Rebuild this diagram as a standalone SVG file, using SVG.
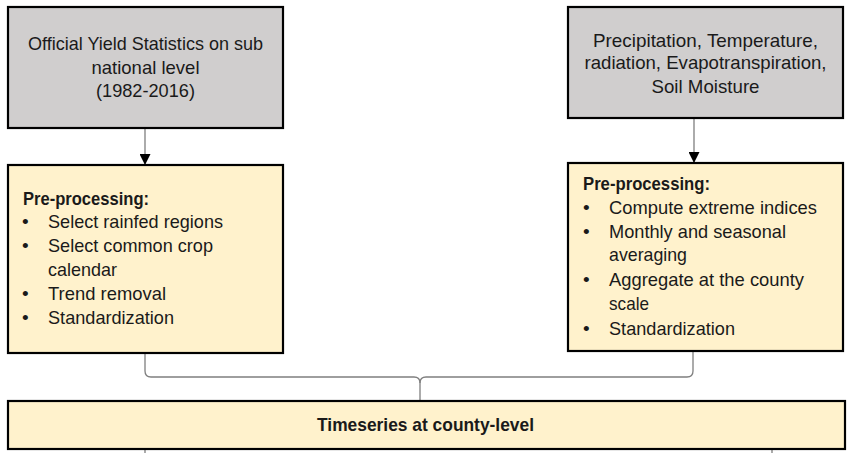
<svg xmlns="http://www.w3.org/2000/svg" width="848" height="453" viewBox="0 0 848 453">
<style>
.gray{fill:#d0cece;stroke:#000;stroke-width:2.2}
.yel{fill:#fff2cc;stroke:#000;stroke-width:2.2}
text{font-family:"Liberation Sans",Arial,sans-serif;font-size:19px;fill:#1a1a1a}
.c{text-anchor:middle}
.b{font-weight:bold}
.conn{fill:none;stroke:#7f7f7f;stroke-width:1.3}
</style>
<defs>
<marker id="arr" markerWidth="11" markerHeight="11" refX="10" refY="5.5" orient="auto" markerUnits="userSpaceOnUse">
<path d="M0,0 L11,5.5 L0,11 Z" fill="#000"/>
</marker>
</defs>
<g id="connectors">
<line class="conn" x1="145" y1="129" x2="145" y2="164" marker-end="url(#arr)"/>
<line class="conn" x1="694" y1="119" x2="694" y2="162" marker-end="url(#arr)"/>
<path class="conn" d="M145,354 V371 Q145,377 151,377 H414 Q420,377 420,383 V400"/>
<path class="conn" d="M693,352 V371 Q693,377 687,377 H426 Q420,377 420,383"/>
<line class="conn" x1="145" y1="450" x2="145" y2="453"/>
<line class="conn" x1="772" y1="450" x2="772" y2="453"/>
</g>
<g id="yield-stats">
<rect class="gray" x="8" y="7" width="275" height="121"/>
<text class="c" x="145.5" y="50" textLength="235" lengthAdjust="spacingAndGlyphs">Official Yield Statistics on sub</text>
<text class="c" x="145.5" y="74" textLength="108" lengthAdjust="spacingAndGlyphs">national level</text>
<text class="c" x="145.5" y="97" textLength="99" lengthAdjust="spacingAndGlyphs">(1982-2016)</text>
</g>
<g id="climate-vars">
<rect class="gray" x="568" y="7" width="275" height="111"/>
<text class="c" x="705.5" y="47" textLength="225" lengthAdjust="spacingAndGlyphs">Precipitation, Temperature,</text>
<text class="c" x="705.5" y="69" textLength="242" lengthAdjust="spacingAndGlyphs">radiation, Evapotranspiration,</text>
<text class="c" x="705.5" y="93" textLength="108" lengthAdjust="spacingAndGlyphs">Soil Moisture</text>
</g>
<g id="preproc-left">
<rect class="yel" x="8" y="165" width="275" height="188"/>
<text class="b" x="23" y="205" textLength="126" lengthAdjust="spacingAndGlyphs">Pre-processing:</text>
<text x="22" y="228">•</text>
<text x="48" y="228" textLength="175" lengthAdjust="spacingAndGlyphs">Select rainfed regions</text>
<text x="22" y="252">•</text>
<text x="48" y="252" textLength="165" lengthAdjust="spacingAndGlyphs">Select common crop</text>
<text x="48" y="276" textLength="69" lengthAdjust="spacingAndGlyphs">calendar</text>
<text x="22" y="300">•</text>
<text x="48" y="300" textLength="118" lengthAdjust="spacingAndGlyphs">Trend removal</text>
<text x="22" y="324">•</text>
<text x="48" y="324" textLength="126" lengthAdjust="spacingAndGlyphs">Standardization</text>
</g>
<g id="preproc-right">
<rect class="yel" x="568" y="163" width="275" height="188"/>
<text class="b" x="583" y="190" textLength="127" lengthAdjust="spacingAndGlyphs">Pre-processing:</text>
<text x="583" y="214">•</text>
<text x="609" y="214" textLength="208" lengthAdjust="spacingAndGlyphs">Compute extreme indices</text>
<text x="583" y="238">•</text>
<text x="609" y="238" textLength="177" lengthAdjust="spacingAndGlyphs">Monthly and seasonal</text>
<text x="609" y="261" textLength="78" lengthAdjust="spacingAndGlyphs">averaging</text>
<text x="583" y="286">•</text>
<text x="609" y="286" textLength="195" lengthAdjust="spacingAndGlyphs">Aggregate at the county</text>
<text x="609" y="310" textLength="40" lengthAdjust="spacingAndGlyphs">scale</text>
<text x="583" y="335">•</text>
<text x="609" y="335" textLength="126" lengthAdjust="spacingAndGlyphs">Standardization</text>
</g>
<g id="timeseries">
<rect class="yel" x="8" y="401" width="837" height="48"/>
<text class="c b" x="425.5" y="431" font-size="17" textLength="217" lengthAdjust="spacingAndGlyphs">Timeseries at county-level</text>
</g>
</svg>
